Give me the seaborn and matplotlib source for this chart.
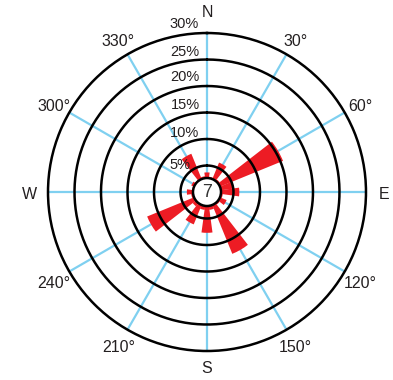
import numpy as np
import matplotlib.pyplot as plt
import seaborn as sns
from matplotlib.patches import Circle
from matplotlib.transforms import offset_copy

# --- data ---
directions = [0, 15, 30, 45, 60, 75, 90, 105, 120, 135, 150, 165,
              180, 195, 210, 225, 240, 255, 270, 285, 300, 315, 330, 345]
frequency = [3.7, 2.9, 6.0, 3.0, 15.5, 5.0, 6.1, 3.0, 4.0, 3.0, 12.6, 3.4,
             7.7, 3.4, 6.6, 3.4, 12.2, 3.0, 3.8, 2.8, 3.2, 2.8, 7.8, 3.0]
calm = 7
ring_values = [5, 10, 15, 20, 25, 30]
ring_labels = ['5%', '10%', '15%', '20%', '25%', '30%']
spoke_angles = [0, 30, 60, 90, 120, 150, 180, 210, 240, 270, 300, 330]
spoke_labels = ['N', '30°', '60°', 'E', '120°', '150°',
                'S', '210°', '240°', 'W', '300°', '330°']

sns.set_style('white')
plt.rcParams['font.family'] = ['Liberation Sans', 'DejaVu Sans']
text_color = '#231F20'
red = '#ED1C24'
blue = '#7FD0F0'

fig = plt.figure(figsize=(3.93, 3.80), dpi=100)
ax = fig.add_axes([0.1221, 0.0763, 0.8092, 0.8368], projection='polar')
ax.set_theta_zero_location('N')
ax.set_theta_direction(-1)
ax.set_ylim(0, 30)

# spokes
ax.set_axisbelow(True)
ax.set_xticks(np.deg2rad(spoke_angles))
ax.set_xticklabels([])
ax.xaxis.grid(True, color=blue, linewidth=1.6)
ax.yaxis.grid(False)
ax.set_yticks([])
ax.spines['polar'].set_linewidth(1.8)
ax.spines['polar'].set_color('black')

# direction labels just outside the outer ring (nudged down a little)
lab_trans = offset_copy(ax.transData, fig=fig, x=0, y=-2.5, units='dots')
label_radius = {'N': 34.4, 'S': 32.9}
for ang, lab in zip(spoke_angles, spoke_labels):
    ax.text(np.deg2rad(ang), label_radius.get(lab, 33.4), lab, ha='center',
            va='center', fontsize=11.5, color=text_color, clip_on=False,
            transform=lab_trans)

# bars
ax.bar(np.deg2rad(directions), frequency, width=np.deg2rad(15.5),
       color=red, edgecolor='none', zorder=2)

# rings
circle_theta = np.linspace(0, 2 * np.pi, 400)
for v in ring_values[:-1]:
    ax.plot(circle_theta, np.full_like(circle_theta, v), color='black',
            linewidth=1.8, zorder=3)

# ring labels
label_offsets = [(-27, 27), (-22, 59), (-22, 87), (-22, 115), (-22, 140), (-23, 168)]
for lab, (dx, dy) in zip(ring_labels, label_offsets):
    ax.text(0.5 + dx / 318, 0.5 + dy / 318, lab, transform=ax.transAxes,
            ha='center', va='center', fontsize=10.5, color=text_color, zorder=6)

# calm circle
ax.add_patch(Circle((0.5, 0.5), 14 / 318, transform=ax.transAxes,
                    facecolor='white', edgecolor='black', linewidth=1.8, zorder=4))
ax.text(0.5, 0.5, str(calm), transform=ax.transAxes, ha='center', va='center',
        fontsize=13, color='#333333', zorder=5)

fig.savefig('out.png', dpi=100)
